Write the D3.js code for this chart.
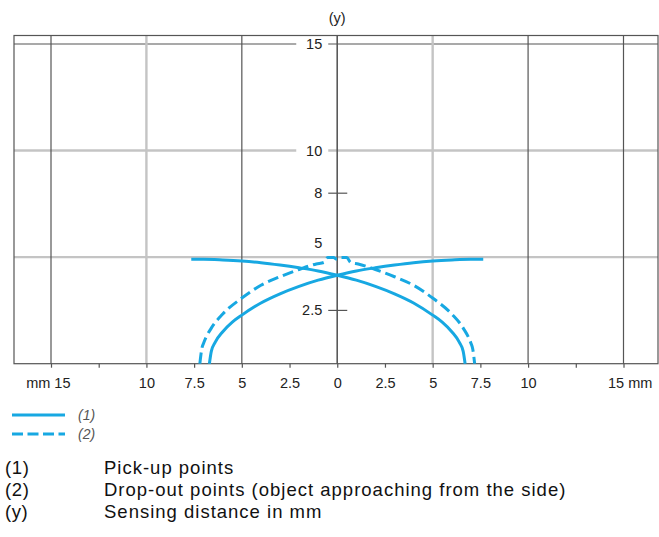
<!DOCTYPE html>
<html>
<head>
<meta charset="utf-8">
<script src="https://cdn.jsdelivr.net/npm/d3@7"></script>
<style>
  html, body { margin: 0; padding: 0; background: #fff; }
  svg { display: block; font-family: "Liberation Sans", Arial, sans-serif; }
</style>
</head>
<body>
<svg id="chart" width="659" height="537"></svg>
<script>
// ---- data ----
const xTicks = [-15, -12.5, -10, -7.5, -5, -2.5, 0, 2.5, 5, 7.5, 10, 12.5, 15];
const xTickLabels = ["mm 15", "", "10", "7.5", "5", "2.5", "0", "2.5", "5", "7.5", "10", "", "15 mm"];
const xGrid = [-15, -10, -5, 0, 5, 10, 15];
const yGrid = [5, 10, 15];
const yTickValues = [2.5, 8];
const yLabels = [2.5, 5, 8, 10, 15];

// Pick-up points, curve from bottom-left to top-right
const pickupA = [
  [-6.7, 0], [-6.6, 0.58], [-6.4, 1.0], [-6.0, 1.5], [-5.5, 1.95], [-5.0, 2.28],
  [-4.0, 2.85], [-3.0, 3.28], [-2.0, 3.63], [-1.0, 3.92], [0, 4.15], [1.0, 4.35],
  [2.0, 4.5], [3.0, 4.63], [4.0, 4.74], [5.0, 4.82], [6.0, 4.87], [7.0, 4.9], [7.65, 4.9]
];
// Pick-up points, curve from bottom-right to top-left
const pickupB = [
  [-7.65, 4.9], [-7.0, 4.9], [-6.0, 4.87], [-5.0, 4.82], [-4.0, 4.74], [-3.0, 4.63],
  [-2.0, 4.5], [-1.0, 4.35], [0, 4.15], [1.0, 3.92], [2.0, 3.63], [3.0, 3.28],
  [4.0, 2.85], [5.0, 2.28], [5.5, 1.95], [6.0, 1.5], [6.4, 1.0], [6.6, 0.58], [6.7, 0]
];
// Drop-out points
const dropout = [
  [-7.2, 0], [-7.1, 0.69], [-7.0, 0.97], [-6.6, 1.67], [-6.0, 2.33], [-5.0, 3.08],
  [-4.0, 3.68], [-3.0, 4.08], [-2.0, 4.42], [-1.1, 4.68], [-0.7, 4.75], [-0.5, 4.98],
  [-0.2, 4.98], [0, 4.9], [0.2, 4.98], [0.5, 4.98], [0.7, 4.75], [1.1, 4.68],
  [2.0, 4.42], [3.0, 4.08], [4.0, 3.68], [5.0, 3.08], [6.0, 2.33], [6.6, 1.67],
  [7.0, 0.97], [7.1, 0.69], [7.2, 0]
];
const legendLabels = ["(1)", "(2)"];
const notesKeys = ["(1)", "(2)", "(y)"];
const notesText = ["Pick-up points", "Drop-out points (object approaching from the side)", "Sensing distance in mm"];

// ---- drawing ----
const svg = d3.select("#chart");
const blue = "#17a8e2";
const dark = "#555";
const light = "#c4c4c4";

const x = d3.scaleLinear().domain([-15, 15]).range([51, 623.5]);
const y = d3.scaleLinear().domain([0, 15]).range([363.7, 44]);

const frameL = 14, frameR = 658, frameT = 35.5, frameB = y(0);

const lightX = new Set([-10, 5]);
const lightY = new Set([5, 10]);

// horizontal grid
svg.selectAll("line.hgrid").data(yGrid).enter().append("line")
  .attr("x1", frameL).attr("x2", frameR)
  .attr("y1", d => y(d)).attr("y2", d => y(d))
  .attr("stroke", d => lightY.has(d) ? light : dark)
  .attr("stroke-width", d => lightY.has(d) ? 2.4 : 1.2);

// vertical grid
svg.selectAll("line.vgrid").data(xGrid).enter().append("line")
  .attr("x1", d => x(d)).attr("x2", d => x(d))
  .attr("y1", frameT).attr("y2", frameB)
  .attr("stroke", d => lightX.has(d) ? light : dark)
  .attr("stroke-width", d => lightX.has(d) ? 2.4 : 1.2);

// frame
svg.append("rect").attr("x", frameL).attr("y", frameT)
  .attr("width", frameR - frameL).attr("height", frameB - frameT)
  .attr("fill", "none").attr("stroke", dark).attr("stroke-width", 1.2);

// bottom axis ticks + labels
const xAxis = d3.axisBottom(x).tickValues(xTicks).tickSize(4).tickSizeOuter(0)
  .tickFormat((d, i) => xTickLabels[i]);
const gx = svg.append("g").attr("transform", `translate(0,${frameB})`).call(xAxis);
gx.select(".domain").remove();
gx.selectAll(".tick line").attr("stroke", dark).attr("stroke-width", 1.2);
gx.selectAll(".tick text")
  .attr("font-family", "Liberation Sans, Arial, sans-serif")
  .attr("font-size", 14.5).attr("fill", "#222")
  .attr("y", 14).attr("dy", "0.71em")
  .attr("text-anchor", (d, i) => i === 0 ? "end" : (i === xTicks.length - 1 ? "start" : "middle"))
  .attr("x", (d, i) => i === 0 ? 19 : (i === xTicks.length - 1 ? -16 : 0));

// y labels with white backgrounds on grid lines
const cx = x(0);
const labelRight = cx - 15;
svg.selectAll("rect.ybg").data(yLabels.filter(d => d === 10 || d === 15)).enter().append("rect")
  .attr("x", cx - 41).attr("width", 32)
  .attr("y", d => y(d) - 7).attr("height", 14).attr("fill", "#fff");

// central axis
svg.append("line").attr("x1", cx).attr("x2", cx).attr("y1", frameT).attr("y2", frameB)
  .attr("stroke", dark).attr("stroke-width", 1.2);

// y tick dashes
svg.selectAll("line.ytick").data(yTickValues).enter().append("line")
  .attr("x1", cx - 9).attr("x2", cx + 10)
  .attr("y1", d => y(d)).attr("y2", d => y(d))
  .attr("stroke", dark).attr("stroke-width", 1.2);

svg.selectAll("text.ylab").data(yLabels).enter().append("text")
  .attr("x", labelRight)
  .attr("y", d => d === 5 ? y(d) - 14 : y(d))
  .attr("dy", "0.35em")
  .attr("text-anchor", "end")
  .attr("font-size", 14.5).attr("fill", "#222")
  .text(d => d);

svg.append("text").attr("x", cx).attr("y", 18).attr("dy", "0.35em")
  .attr("text-anchor", "middle").attr("font-size", 14.5).attr("fill", "#222").text("(y)");

// curves
const line = d3.line().x(d => x(d[0])).y(d => y(d[1])).curve(d3.curveMonotoneX);
[pickupA, pickupB].forEach(s => {
  svg.append("path").attr("d", line(s)).attr("fill", "none")
    .attr("stroke", blue).attr("stroke-width", 3);
});
svg.append("path").attr("d", line(dropout)).attr("fill", "none")
  .attr("stroke", blue).attr("stroke-width", 3).attr("stroke-dasharray", "11,5");

// legend
const legY = [415, 434];
legendLabels.forEach((lab, i) => {
  svg.append("line").attr("x1", 12).attr("x2", 65).attr("y1", legY[i]).attr("y2", legY[i])
    .attr("stroke", blue).attr("stroke-width", 3)
    .attr("stroke-dasharray", i === 1 ? "11,4.5" : null);
  svg.append("text").attr("x", 78).attr("y", legY[i]).attr("dy", "0.35em")
    .attr("font-size", 14).attr("font-style", "italic").attr("fill", "#555").text(lab);
});

// notes
const noteY = [468, 490, 512];
notesKeys.forEach((k, i) => {
  svg.append("text").attr("x", 5).attr("y", noteY[i]).attr("dy", "0.35em")
    .attr("font-size", 18.5).attr("letter-spacing", 0.6).attr("fill", "#111").text(k);
  svg.append("text").attr("x", 104).attr("y", noteY[i]).attr("dy", "0.35em")
    .attr("font-size", 18.5).attr("letter-spacing", 1.0).attr("fill", "#111").text(notesText[i]);
});
</script>
</body>
</html>
